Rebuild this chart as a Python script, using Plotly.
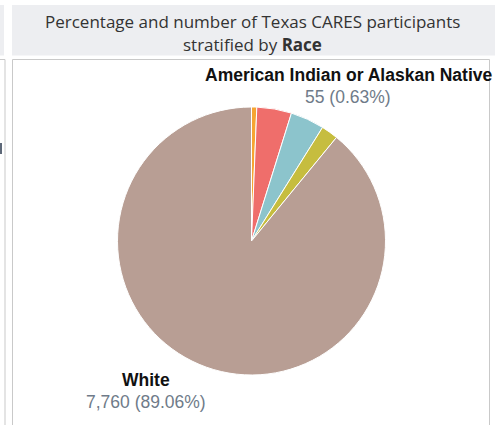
import plotly.graph_objects as go

# ---- data ----
categories = ["American Indian or Alaskan Native", "Asian", "Black or African American",
              "More than one race", "White"]
counts = [55, 365, 355, 178, 7760]
colors = ["#f6a531", "#ef6e6b", "#8cc4cc", "#c6bd3f", "#b89e94"]
labelled = ["American Indian or Alaskan Native", "White"]

W, H = 495, 425
def px(x):
    return x / W
def py(y):
    return 1 - y / H

total = sum(counts)

cx, cy, r = 251.5, 241, 134
fig = go.Figure(go.Pie(
    labels=categories, values=counts, sort=False, direction="clockwise", rotation=0,
    marker=dict(colors=colors, line=dict(color="white", width=1)),
    textinfo="none", hoverinfo="label+value+percent", showlegend=False,
    domain=dict(x=[px(cx - r), px(cx + r)], y=[py(cy + r), py(cy - r)]),
))

shapes = [
    # header background
    dict(type="rect", x0=px(12), x1=px(495), y0=py(55.5), y1=py(5), fillcolor="#edeef1", line_width=0),
    dict(type="rect", x0=px(0), x1=px(4), y0=py(55.5), y1=py(5), fillcolor="#edeef1", line_width=0),
    # panel borders
    dict(type="rect", x0=px(12.5), x1=px(489.5), y0=py(430), y1=py(59.5), fillcolor="white",
         line=dict(color="#c9c9c9", width=1)),
    dict(type="line", x0=px(5), x1=px(5), y0=py(59.5), y1=py(430), line=dict(color="#c9c9c9", width=1)),
    dict(type="line", x0=px(0), x1=px(5), y0=py(59.5), y1=py(59.5), line=dict(color="#c9c9c9", width=1)),
    # clipped glyph of the neighbouring panel
    dict(type="rect", x0=px(0), x1=px(2), y0=py(154), y1=py(143), fillcolor="#5d6878", line_width=0),
]

annotations = [
    dict(text="Percentage and number of Texas CARES participants", x=px(253), y=py(21),
         font=dict(family="Open Sans", size=17, color="#333333")),
    dict(text="stratified by <b>Race</b>", x=px(253), y=py(45),
         font=dict(family="Open Sans", size=17, color="#333333")),
]

label_pos = {"American Indian or Alaskan Native": (348, 75), "White": (146, 380)}
for name, cnt in zip(categories, counts):
    if name in labelled:
        lx, ly = label_pos[name]
        annotations.append(dict(text=f"<b>{name}</b>", x=px(lx), y=py(ly),
                                font=dict(family="Liberation Sans", size=17.5, color="#111111")))
        annotations.append(dict(text=f"{cnt:,} ({cnt / total * 100:.2f}%)", x=px(lx), y=py(ly + 22),
                                font=dict(family="Liberation Sans", size=17.5, color="#6f7b89")))

for a in annotations:
    a.update(xref="paper", yref="paper", showarrow=False, xanchor="center", yanchor="middle")

shapes = [dict(s, xref="paper", yref="paper", layer="below") for s in shapes]

fig.update_layout(width=W, height=H, margin=dict(l=0, r=0, t=0, b=0),
                  paper_bgcolor="white", plot_bgcolor="white",
                  shapes=shapes, annotations=annotations)

fig.write_html("out.html", config={"displayModeBar": False},
               post_script="document.body.style.margin='0';document.body.style.overflow='hidden';")
